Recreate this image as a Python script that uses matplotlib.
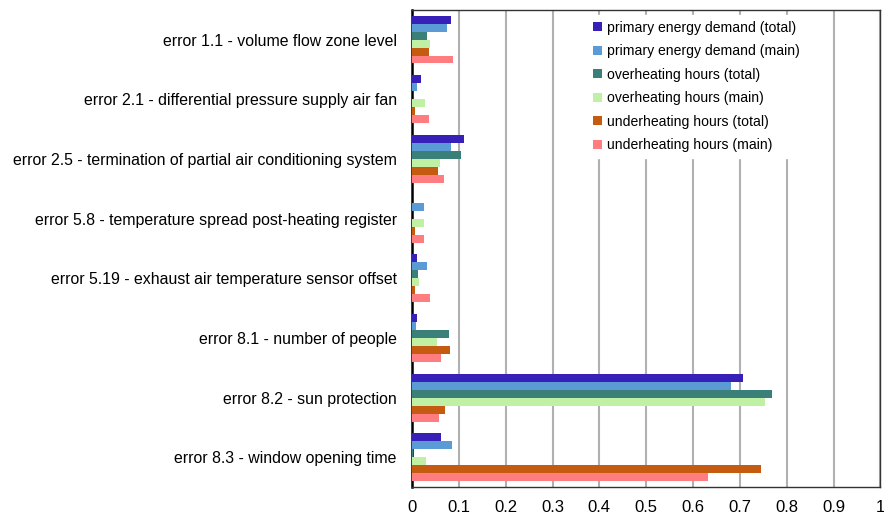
import numpy as np
import matplotlib.pyplot as plt

plt.rcParams['font.family'] = ['Liberation Sans', 'DejaVu Sans']

# Error cases (top to bottom)
categories = [
    'error 1.1 - volume flow zone level',
    'error 2.1 - differential pressure supply air fan',
    'error 2.5 - termination of partial air conditioning system',
    'error 5.8 - temperature spread post-heating register',
    'error 5.19 - exhaust air temperature sensor offset',
    'error 8.1 - number of people',
    'error 8.2 - sun protection',
    'error 8.3 - window opening time',
]

series_names = [
    'primary energy demand (total)',
    'primary energy demand (main)',
    'overheating hours (total)',
    'overheating hours (main)',
    'underheating hours (total)',
    'underheating hours (main)',
]

ped_total = [0.083, 0.019, 0.112, 0.000, 0.011, 0.010, 0.706, 0.061]
ped_main  = [0.075, 0.011, 0.083, 0.026, 0.033, 0.009, 0.681, 0.085]
oh_total  = [0.033, 0.000, 0.104, 0.000, 0.013, 0.080, 0.769, 0.003]
oh_main   = [0.039, 0.028, 0.060, 0.026, 0.014, 0.054, 0.753, 0.030]
uh_total  = [0.037, 0.006, 0.055, 0.007, 0.007, 0.081, 0.070, 0.744]
uh_main   = [0.088, 0.037, 0.069, 0.026, 0.038, 0.062, 0.057, 0.632]

series = [ped_total, ped_main, oh_total, oh_main, uh_total, uh_main]
colors = ['#3620b8', '#5b9bd5', '#3a8078', '#bff0a3', '#c55a11', '#ff7c80']

fig = plt.figure(figsize=(8.84, 5.15), dpi=100)
ax = fig.add_axes([0.466, 0.054, 0.530, 0.927])

n = len(series)
group = 0.8
h = group / n
y = np.arange(len(categories))

for i, (vals, name, c) in enumerate(zip(series, series_names, colors)):
    offs = -group / 2 + h * (i + 0.5)
    ax.barh(y + offs, vals, height=h, color=c, label=name, zorder=3)

ax.set_yticks(y)
ax.set_yticklabels(categories, fontsize=11.4)
ax.set_ylim(len(categories) - 0.5, -0.5)
ax.set_xlim(0, 1)
ax.set_xticks(np.arange(0, 1.01, 0.1))
ax.set_xticklabels(['0', '0.1', '0.2', '0.3', '0.4', '0.5', '0.6', '0.7', '0.8', '0.9', '1'],
                   fontsize=12)
ax.tick_params(axis='y', length=0, pad=11)
ax.tick_params(axis='x', length=0, pad=9)
ax.xaxis.grid(True, color='#b0b0b0', linewidth=1.5, zorder=0)

for side in ['top', 'right', 'bottom']:
    ax.spines[side].set_color('#333333')
    ax.spines[side].set_linewidth(1.0)
ax.spines['left'].set_linewidth(1.8)
ax.spines['left'].set_color('black')

leg = ax.legend(loc='upper left', bbox_to_anchor=(0.366, 0.998), fontsize=10.1,
                frameon=True, framealpha=1, edgecolor='white', fancybox=False,
                handlelength=0.6, handleheight=0.6, handletextpad=0.35,
                labelspacing=0.68, borderaxespad=0.3)
leg.set_zorder(5)

fig.savefig('out.png', dpi=100)
